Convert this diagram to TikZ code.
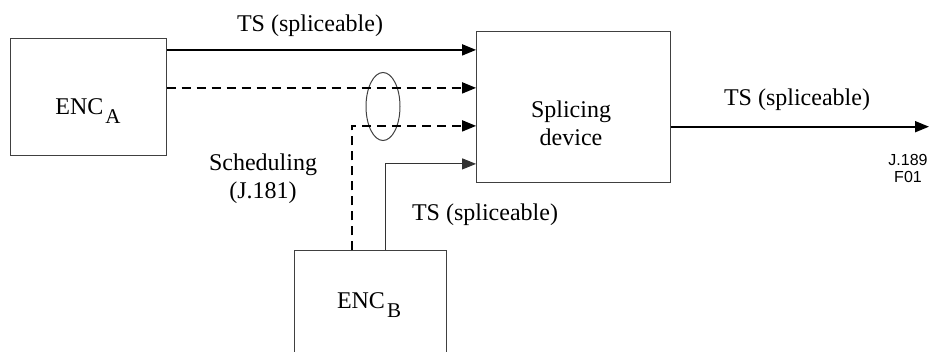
\documentclass[tikz,border=0pt]{standalone}
\usepackage{fontspec}
\setmainfont{Liberation Serif}
\newfontfamily\figidfont{Liberation Sans}
\usetikzlibrary{arrows.meta,shapes.geometric}
\tikzset{
  block/.style={draw=black!75,line width=0.5pt,inner sep=0pt},
  tsline/.style={line width=0.9pt,-{Triangle[length=7pt,width=5.5pt]}},
  thinline/.style={draw=black!80,line width=0.5pt,-{Triangle[length=7pt,width=5.5pt]}},
  schedline/.style={tsline,dash pattern=on 4.5pt off 3pt},
  lbl/.style={font=\fontsize{12}{13.8}\selectfont,align=center,inner sep=0pt}
}
\newcommand{\encname}[1]{ENC\hspace{1pt}\raisebox{-4.5pt}{\fontsize{10.5}{10.5}\selectfont #1}}

\begin{document}
\begin{tikzpicture}[x=0.5pt,y=-0.5pt]
    \useasboundingbox (0,0) rectangle (931,352);
    \node[block,minimum width=78pt,minimum height=58.5pt] (encA) at (88,97.5) {};
    \node[block,minimum width=96.7pt,minimum height=75.8pt] (splicer) at (573.3,106.9) {};
    \node[block,minimum width=76pt,minimum height=58.5pt] (encB) at (370,309.5) {};
    \node[block,ellipse,minimum width=17pt,minimum height=34pt] (bundle) at (383,106.5) {};
    \node[lbl] (encAtxt) at (88,111) {\encname{A}};
    \node[lbl] (splicetxt) at (571,123) {Splicing\\device};
    \node[lbl] (encBtxt) at (369,305) {\encname{B}};
    \node[lbl] (tsA) at (310,26) {TS (spliceable)};
    \node[lbl] (tsB) at (485,215) {TS (spliceable)};
    \node[lbl] (tsOut) at (797,100) {TS (spliceable)};
    \node[lbl] (sched) at (263,179) {Scheduling\\(J.181)};
    \node[align=center,inner sep=0pt,font=\figidfont\fontsize{8}{8.5}\selectfont] (figid) at (908,168) {J.189\\F01};
    \coordinate (in1) at ([yshift=28.5pt]splicer.west);
    \coordinate (in2) at ([yshift=9.5pt]splicer.west);
    \coordinate (in3) at ([yshift=-9.5pt]splicer.west);
    \coordinate (in4) at ([yshift=-28.5pt]splicer.west);
    \coordinate (out) at (929,126.7);
    \draw[tsline] (encA.east |- in1) -- (in1);
    \draw[schedline] (encA.east |- in2) -- (in2);
    \draw[schedline] ([xshift=-9pt]encB.north) |- (in3);
    \draw[thinline] ([xshift=7.5pt]encB.north) |- (in4);
    \draw[tsline] (splicer.east |- out) -- (out);
\end{tikzpicture}
\end{document}
